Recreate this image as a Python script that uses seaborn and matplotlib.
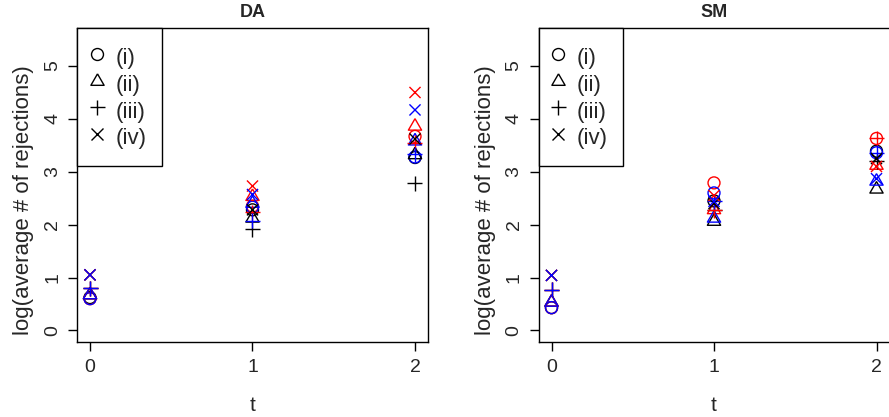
import matplotlib
matplotlib.use("Agg")
import matplotlib.pyplot as plt
from matplotlib.lines import Line2D
import seaborn as sns
import pandas as pd

# ---- data -------------------------------------------------------------
t_values = [0, 1, 2]
settings = ["(i)", "(ii)", "(iii)", "(iv)"]
methods = ["black", "red", "blue"]
panels = ["DA", "SM"]

# rows: (i) circle, (ii) triangle, (iii) plus, (iv) cross ; columns: t = 0, 1, 2
da_black = [[0.62, 2.28, 3.27],
            [0.67, 2.12, 3.32],
            [0.80, 1.91, 2.78],
            [1.05, 2.28, 3.62]]
da_red = [[0.60, 2.35, 3.67],
          [0.67, 2.53, 3.86],
          [0.80, 2.23, 3.55],
          [1.05, 2.73, 4.50]]
da_blue = [[0.60, 2.33, 3.28],
           [0.67, 2.40, 3.58],
           [0.80, 2.07, 3.33],
           [1.05, 2.57, 4.17]]

sm_black = [[0.43, 2.45, 3.39],
            [0.53, 2.06, 2.67],
            [0.77, 2.28, 3.20],
            [1.04, 2.40, 3.25]]
sm_red = [[0.43, 2.79, 3.63],
          [0.53, 2.28, 3.12],
          [0.77, 2.27, 3.63],
          [1.04, 2.55, 3.10]]
sm_blue = [[0.43, 2.60, 3.36],
           [0.53, 2.12, 2.82],
           [0.77, 2.44, 3.36],
           [1.04, 2.44, 2.87]]

y_ticks = [0, 1, 2, 3, 4, 5]
x_label = "t"
y_label = "log(average # of rejections)"

# ---- long table -------------------------------------------------------
tables = {("DA", "black"): da_black, ("DA", "red"): da_red, ("DA", "blue"): da_blue,
          ("SM", "black"): sm_black, ("SM", "red"): sm_red, ("SM", "blue"): sm_blue}
rows = []
for panel in panels:
    for m in methods:
        tab = tables[(panel, m)]
        for si, s in enumerate(settings):
            for ti, t in enumerate(t_values):
                rows.append(dict(panel=panel, method=m, setting=s, t=t, value=tab[si][ti]))
df = pd.DataFrame(rows)

# ---- style ------------------------------------------------------------
sns.set_style("white")
plt.rcParams["font.family"] = ["Liberation Sans", "DejaVu Sans"]
plt.rcParams["font.size"] = 12

# R-like open equilateral triangle (pch = 2)
tri = [(0.0, 1.0), (-0.866, -0.5), (0.866, -0.5), (0.0, 1.0)]
markers = {"(i)": "o", "(ii)": tri, "(iii)": "+", "(iv)": "x"}
msize = {"(i)": 8.6, "(ii)": 11.0, "(iii)": 10.8, "(iv)": 8.0}
filled = {"(i)": True, "(ii)": True, "(iii)": False, "(iv)": False}
palette = {"black": "black", "red": "#FF0000", "blue": "#0000FF"}

fig = plt.figure(figsize=(8.89, 4.17), dpi=100)
W, H = 889, 417
positions = [(77, 28, 428, 342), (538.5, 28, 889.5, 342)]

for panel, (x0, y0, x1, y1) in zip(panels, positions):
    aw, ah = x1 - x0, y1 - y0
    ax = fig.add_axes([x0 / W, 1 - y1 / H, aw / W, ah / H])
    for s in settings:
        sub = df[(df.panel == panel) & (df.setting == s)]
        n_before = len(ax.collections)
        sns.scatterplot(data=sub, x="t", y="value", hue="method", hue_order=methods,
                        palette=palette, marker=markers[s], s=msize[s] ** 2,
                        linewidth=1.0, legend=False, ax=ax)
        coll = ax.collections[n_before]
        cols = [palette[m] for m in sub["method"]]
        coll.set_edgecolors(cols)
        if filled[s]:
            coll.set_facecolors("none")
        coll.set_linewidths(1.0)

    ax.set_xlim(-0.08, 2.08)
    ax.set_ylim(-0.22, 5.72)
    ax.set_xticks(t_values)
    ax.set_yticks(y_ticks)
    ax.set_yticklabels([str(v) for v in y_ticks], rotation=90, va="center")
    ax.tick_params(axis="both", direction="out", length=6.5, width=1.0,
                   color="black", labelsize=14, pad=5, left=True, bottom=True)
    ax.tick_params(axis="x", pad=6)
    ax.set_xlabel(x_label, fontsize=15, labelpad=14)
    ax.set_ylabel(y_label, fontsize=16)
    ax.yaxis.set_label_coords(-43 / aw, (342 - 200) / ah)
    ax.set_title(panel, fontsize=13, fontweight="bold", pad=8)
    for sp in ax.spines.values():
        sp.set_color("black")
        sp.set_linewidth(1.0)
        sp.set_visible(True)

    handles = [Line2D([], [], linestyle="none", marker=markers[s], color="black",
                      markerfacecolor="none", markersize=msize[s], markeredgewidth=1.0)
               for s in settings]
    leg = ax.legend(handles, settings, loc="upper left", borderaxespad=0,
                    frameon=True, fancybox=False, framealpha=1, edgecolor="black",
                    fontsize=16, handlelength=0.36, handleheight=1.47,
                    handletextpad=0.66, labelspacing=0.0, borderpad=0.7)
    leg.get_frame().set_linewidth(1.0)

fig.savefig("out.png", dpi=100)
